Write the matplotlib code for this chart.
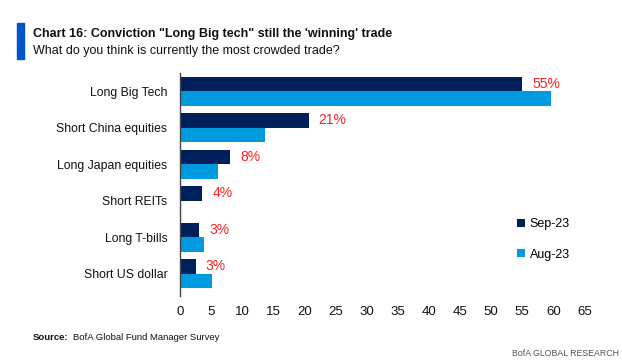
import matplotlib.pyplot as plt
import numpy as np

# 数据
categories = ["Long Big Tech", "Short China equities", "Long Japan equities",
              "Short REITs", "Long T-bills", "Short US dollar"]
sep_23 = [55, 20.7, 8.1, 3.6, 3.1, 2.6]
aug_23 = [59.6, 13.7, 6.1, 0, 3.8, 5.2]
sep_labels = ["55%", "21%", "8%", "4%", "3%", "3%"]
x_ticks = list(range(0, 70, 5))

NAVY = "#00205B"
LIGHT = "#009ADE"
RED = "#FF1F1F"

plt.rcParams["font.family"] = ["Liberation Sans Narrow", "Liberation Sans", "DejaVu Sans"]

fig = plt.figure(figsize=(6.22, 3.61), dpi=100)
W, H = 622, 361
ax = fig.add_axes([180 / W, 1 - 292 / H, (584.5 - 180) / W, (292 - 73) / H])

y = np.arange(len(categories))
h = 0.4
ax.barh(y - h / 2, sep_23, height=h, color=NAVY, label="Sep-23")
ax.barh(y + h / 2, aug_23, height=h, color=LIGHT, label="Aug-23")

for yi, v, lab in zip(y, sep_23, sep_labels):
    ax.annotate(lab, (v, yi - h / 2), xytext=(7, 0), textcoords="offset points",
                color=RED, fontsize=10, va="center", ha="left")

ax.set_xlim(0, 65)
ax.set_ylim(len(categories) - 0.5, -0.5)
ax.set_xticks(x_ticks)
ax.set_yticks(y)
ax.set_yticklabels(categories)
ax.tick_params(axis="y", length=0, pad=9, labelsize=8.8, colors="#111111")
ax.tick_params(axis="x", length=0, pad=10, labelsize=9.5, colors="#111111")
for s in ["top", "right", "bottom"]:
    ax.spines[s].set_visible(False)
ax.spines["left"].set_color("#444444")
ax.spines["left"].set_linewidth(1.0)
ax.spines["left"].set_bounds(-0.5, 5.6)

ax.legend(loc="center left", bbox_to_anchor=((506 - 180) / (584.5 - 180), 0.24),
          frameon=False, handlelength=0.6, handleheight=0.6, handletextpad=0.4,
          labelspacing=1.5, fontsize=9)

# 标题区
fig.patches.append(plt.Rectangle((17 / W, 1 - 59 / H), 7 / W, 36 / H,
                                 transform=fig.transFigure, color="#0055CC"))
fig.text(33 / W, 1 - 34 / H, "Chart 16: Conviction \"Long Big tech\" still the 'winning' trade",
         fontsize=9, fontweight="bold", color="#111111", va="center")
fig.text(33 / W, 1 - 51 / H, "What do you think is currently the most crowded trade?",
         fontsize=9, color="#111111", va="center")

fig.text(33 / W, 1 - 337 / H, "Source:", fontsize=6.8, fontweight="bold", color="#111111", va="center")
fig.text(73 / W, 1 - 337 / H, "BofA Global Fund Manager Survey", fontsize=6.8, color="#111111", va="center")
fig.text(619 / W, 1 - 354 / H, "BofA GLOBAL RESEARCH", fontsize=6.3, color="#555555",
         va="center", ha="right")

fig.savefig("out.png", dpi=100)
